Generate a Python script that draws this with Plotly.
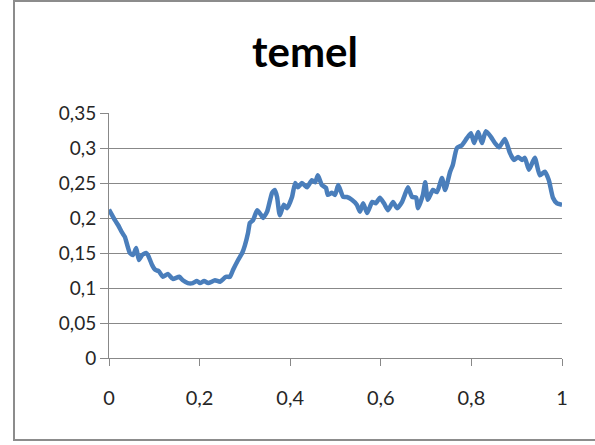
import plotly.graph_objects as go

# Series "temel": sampled x positions and measured values
x_vals = [0.000, 0.013, 0.020, 0.029, 0.035, 0.046, 0.053, 0.060, 0.066, 0.073,
          0.082, 0.086, 0.095, 0.102, 0.110, 0.119, 0.130, 0.141, 0.155, 0.163,
          0.174, 0.185, 0.194, 0.201, 0.210, 0.219, 0.234, 0.245, 0.258, 0.267,
          0.274, 0.285, 0.294, 0.300, 0.307, 0.311, 0.318, 0.327, 0.336, 0.340,
          0.349, 0.360, 0.366, 0.371, 0.377, 0.386, 0.393, 0.404, 0.411, 0.417,
          0.426, 0.437, 0.448, 0.455, 0.461, 0.470, 0.479, 0.483, 0.492, 0.499,
          0.506, 0.517, 0.525, 0.536, 0.547, 0.554, 0.561, 0.570, 0.581, 0.589,
          0.598, 0.607, 0.616, 0.627, 0.636, 0.647, 0.653, 0.660, 0.669, 0.678,
          0.682, 0.693, 0.698, 0.704, 0.715, 0.724, 0.735, 0.742, 0.753, 0.759,
          0.768, 0.779, 0.790, 0.799, 0.806, 0.815, 0.823, 0.832, 0.843, 0.852,
          0.861, 0.874, 0.885, 0.894, 0.903, 0.912, 0.918, 0.927, 0.940, 0.951,
          0.962, 0.971, 0.980, 0.989, 1.000]
y_vals = [0.212, 0.197, 0.190, 0.179, 0.173, 0.150, 0.147, 0.157, 0.140, 0.147,
          0.150, 0.147, 0.133, 0.126, 0.124, 0.116, 0.120, 0.113, 0.116, 0.111,
          0.107, 0.107, 0.110, 0.107, 0.110, 0.107, 0.111, 0.109, 0.116, 0.116,
          0.126, 0.140, 0.150, 0.161, 0.179, 0.193, 0.197, 0.211, 0.204, 0.200,
          0.209, 0.236, 0.240, 0.230, 0.204, 0.219, 0.214, 0.230, 0.250, 0.244,
          0.250, 0.244, 0.254, 0.251, 0.261, 0.247, 0.243, 0.233, 0.236, 0.233,
          0.247, 0.230, 0.230, 0.226, 0.219, 0.209, 0.221, 0.207, 0.223, 0.221,
          0.229, 0.221, 0.211, 0.223, 0.214, 0.223, 0.233, 0.244, 0.230, 0.229,
          0.214, 0.233, 0.251, 0.226, 0.240, 0.237, 0.257, 0.240, 0.266, 0.276,
          0.300, 0.304, 0.314, 0.321, 0.307, 0.323, 0.307, 0.324, 0.316, 0.307,
          0.301, 0.313, 0.293, 0.283, 0.287, 0.283, 0.286, 0.269, 0.286, 0.261,
          0.266, 0.254, 0.229, 0.221, 0.219]

# Axis ticks (comma as decimal separator)
y_ticks = [0, 0.05, 0.10, 0.15, 0.20, 0.25, 0.30, 0.35]
y_labels = ["0", "0,05", "0,1", "0,15", "0,2", "0,25", "0,3", "0,35"]
x_ticks = [0, 0.2, 0.4, 0.6, 0.8, 1.0]
x_labels = ["0", "0,2", "0,4", "0,6", "0,8", "1"]

GRID = "#888888"
LINE_BLUE = "#4a7ebb"
FONT = "Lato"
TICK_COLOR = "#262626"

fig = go.Figure()
fig.add_trace(go.Scatter(
    x=x_vals, y=y_vals, mode="lines",
    line=dict(color=LINE_BLUE, width=4.5, shape="spline", smoothing=0.5),
    showlegend=False, hoverinfo="skip",
))

fig.update_layout(
    width=595, height=445,
    margin=dict(l=109, r=33, t=113, b=87),
    paper_bgcolor="white", plot_bgcolor="white",
    title=dict(
        text="<b>temel</b>", x=305 / 595, xref="container", xanchor="center",
        y=1 - 52 / 445, yref="container", yanchor="middle",
        font=dict(family=FONT, size=42, color="black"),
    ),
    font=dict(family=FONT, color=TICK_COLOR),
    xaxis=dict(
        range=[0, 1], tickvals=x_ticks, ticktext=x_labels,
        showgrid=False, zeroline=False,
        showline=True, linecolor=GRID, linewidth=1,
        ticks="outside", ticklen=7, tickcolor=GRID, tickwidth=1,
        tickfont=dict(family=FONT, size=20, color=TICK_COLOR),
        ticklabelstandoff=15,
    ),
    yaxis=dict(
        range=[0, 0.35], tickvals=y_ticks, ticktext=y_labels,
        showgrid=True, gridcolor=GRID, gridwidth=1, zeroline=False,
        showline=True, linecolor=GRID, linewidth=1,
        ticks="outside", ticklen=8, tickcolor=GRID, tickwidth=1,
        tickfont=dict(family=FONT, size=19, color=TICK_COLOR),
        ticklabelstandoff=0,
    ),
    shapes=[dict(
        type="rect", xref="paper", yref="paper",
        x0=(14 - 109) / 453, x1=1.2,
        y0=(358 - 440) / 245, y1=(358 - 1) / 245,
        line=dict(color="#8c8c8c", width=2), fillcolor="rgba(0,0,0,0)",
        layer="below",
    )],
)

fig.write_html("out.html")
